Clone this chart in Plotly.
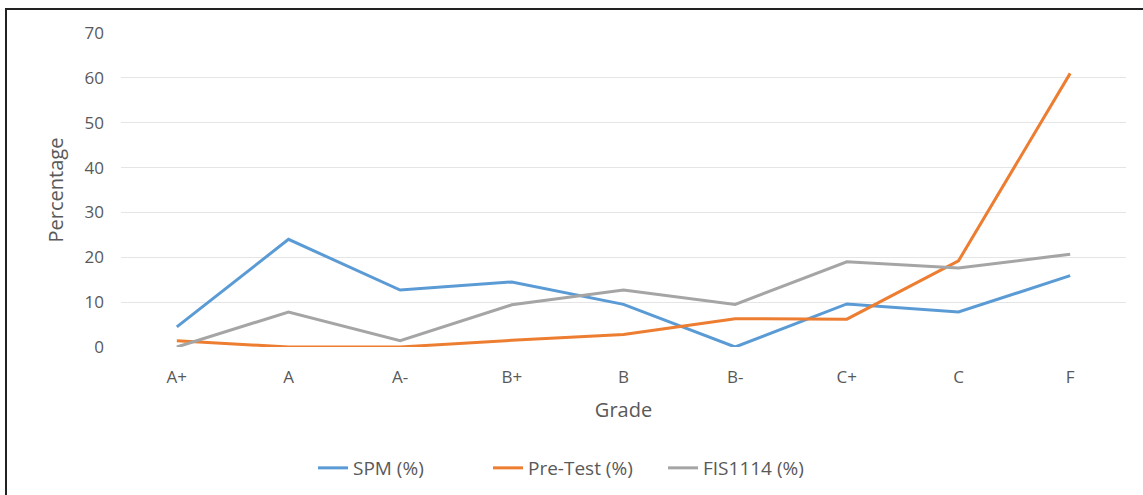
import plotly.graph_objects as go

grades = ["A+", "A", "A-", "B+", "B", "B-", "C+", "C", "F"]
spm = [4.5, 24.0, 12.7, 14.5, 9.5, 0.0, 9.6, 7.8, 15.9]
pretest = [1.4, 0.0, 0.0, 1.5, 2.8, 6.3, 6.2, 19.2, 61.0]
fis1114 = [0.0, 7.8, 1.4, 9.4, 12.7, 9.5, 19.0, 17.6, 20.7]
y_ticks = [0, 10, 20, 30, 40, 50, 60, 70]

W, H = 1143, 495
L, R, T, B = 121, 17, 33, 148
TXT = "#595959"

fig = go.Figure()
for name, vals, col in [("SPM (%)", spm, "#5B9BD5"),
                        ("Pre-Test (%)", pretest, "#ED7D31"),
                        ("FIS1114 (%)", fis1114, "#A5A5A5")]:
    fig.add_trace(go.Scatter(x=grades, y=vals, mode="lines", name=name,
                             line=dict(color=col, width=3), cliponaxis=False))

pw = W - L - R
ph = H - T - B
def px(x):
    return (x - L) / pw
def py(y):
    return (H - B - y) / ph

fig.update_layout(
    width=W, height=H,
    margin=dict(l=L, r=R, t=T, b=B, autoexpand=False),
    paper_bgcolor="white", plot_bgcolor="white",
    font=dict(family="Open Sans", size=17, color=TXT),
    showlegend=True,
    legend=dict(orientation="h", x=px(313), xanchor="left", y=py(468), yanchor="middle",
                font=dict(size=19, color=TXT), tracegroupgap=0,
                entrywidth=130, entrywidthmode="pixels"),
    xaxis=dict(title=dict(text="Grade", font=dict(size=20, color=TXT), standoff=15),
               range=[-0.5, 8.5], showgrid=False, zeroline=False, showline=False, ticks="",
               ticklabelstandoff=18, tickfont=dict(size=17, color=TXT)),
    yaxis=dict(title=dict(text="Percentage", font=dict(size=20, color=TXT), standoff=15),
               range=[0, 70], tickvals=y_ticks, showgrid=True, gridcolor="#E5E5E5",
               gridwidth=1, zeroline=False, showline=False, ticks="",
               ticklabelstandoff=16, tickfont=dict(size=17, color=TXT)),
    shapes=[
        dict(type="line", xref="paper", yref="paper", x0=px(5), x1=px(W), y0=py(9), y1=py(9),
             line=dict(color="#222222", width=2)),
        dict(type="line", xref="paper", yref="paper", x0=px(6), x1=px(6), y0=py(8), y1=py(H),
             line=dict(color="#222222", width=2)),
    ],
)

fig.write_html("out.html", config={"displayModeBar": False},
               post_script="document.body.style.margin='0';")
